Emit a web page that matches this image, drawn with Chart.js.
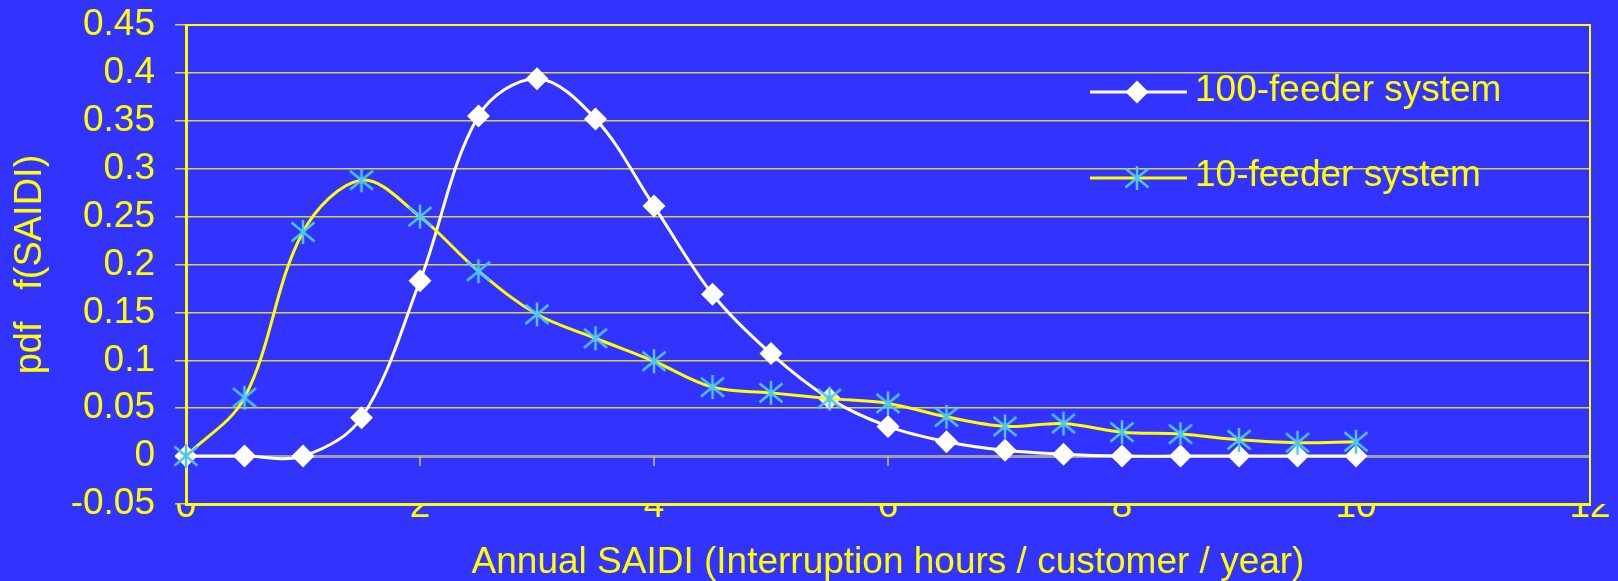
<!DOCTYPE html>
<html>
<head>
<meta charset="utf-8">
<script src="https://cdn.jsdelivr.net/npm/chart.js"></script>
<style>
    body { margin: 0; background: #3333ff; }
    #caixa { width: 1618px; height: 581px; }
</style>
</head>
<body>
<div id="caixa"><canvas id="grafico" width="1618" height="581"></canvas></div>
<script>
// dados
const saidi = [0, 0.5, 1, 1.5, 2, 2.5, 3, 3.5, 4, 4.5, 5, 5.5, 6, 6.5, 7, 7.5, 8, 8.5, 9, 9.5, 10];
const sistema100 = [0, 0, 0, 0.040, 0.183, 0.355, 0.394, 0.352, 0.261, 0.169, 0.107, 0.060, 0.031, 0.015, 0.006, 0.002, 0, 0, 0, 0, 0];
const sistema10 = [0, 0.061, 0.234, 0.288, 0.250, 0.193, 0.148, 0.123, 0.099, 0.072, 0.066, 0.060, 0.055, 0.041, 0.031, 0.034, 0.025, 0.023, 0.017, 0.014, 0.015];
const nomes = ['100-feeder system', '10-feeder system'];

const AMARELO = '#ffff00';
const CIANO = '#4fc6f2';
const fonte = 'Liberation Sans, Arial, sans-serif';

function pontos(ys) {
    return saidi.map((x, i) => ({ x: x, y: ys[i] }));
}

// marcador asterisco (vertical + X), como no Excel
function criarAsterisco() {
    const c = document.createElement('canvas');
    c.width = 26;
    c.height = 26;
    const g = c.getContext('2d');
    g.strokeStyle = CIANO;
    g.lineWidth = 2.5;
    g.beginPath();
    g.moveTo(13, 1); g.lineTo(13, 25);
    g.moveTo(1.5, 3.5); g.lineTo(24.5, 22.5);
    g.moveTo(24.5, 3.5); g.lineTo(1.5, 22.5);
    g.stroke();
    return c;
}
const asterisco = criarAsterisco();

function desenharLosango(ctx, x, y, r) {
    ctx.beginPath();
    ctx.moveTo(x, y - r);
    ctx.lineTo(x + r, y);
    ctx.lineTo(x, y + r);
    ctx.lineTo(x - r, y);
    ctx.closePath();
    ctx.fillStyle = '#ffffff';
    ctx.fill();
}

// moldura, marcas no eixo zero e legenda
const extras = {
    id: 'extras',
    beforeDatasetsDraw(chart) {
        const ctx = chart.ctx;
        const a = chart.chartArea;
        const sx = chart.scales.x;
        const sy = chart.scales.y;
        ctx.save();
        ctx.strokeStyle = AMARELO;
        ctx.lineWidth = 2;
        ctx.beginPath();
        ctx.moveTo(a.left, a.top);
        ctx.lineTo(a.right, a.top);
        ctx.lineTo(a.right, a.bottom);
        ctx.stroke();

        const y0 = sy.getPixelForValue(0);
        ctx.strokeStyle = '#c8c860';
        ctx.lineWidth = 1.5;
        for (let v = 2; v < 12; v += 2) {
            const px = sx.getPixelForValue(v);
            ctx.beginPath();
            ctx.moveTo(px, y0);
            ctx.lineTo(px, y0 + 10);
            ctx.stroke();
        }
        ctx.restore();
    },
    afterDraw(chart) {
        const ctx = chart.ctx;
        ctx.save();
        ctx.lineWidth = 3;
        // linha 1
        ctx.strokeStyle = '#ffffff';
        ctx.beginPath();
        ctx.moveTo(1090, 92);
        ctx.lineTo(1187, 92);
        ctx.stroke();
        desenharLosango(ctx, 1137, 92, 11.5);
        // linha 2
        ctx.strokeStyle = AMARELO;
        ctx.beginPath();
        ctx.moveTo(1090, 178);
        ctx.lineTo(1187, 178);
        ctx.stroke();
        ctx.drawImage(asterisco, 1137 - 13, 178 - 13);

        ctx.fillStyle = AMARELO;
        ctx.font = '37px ' + fonte;
        ctx.textBaseline = 'alphabetic';
        ctx.fillText(nomes[0], 1195, 101);
        ctx.fillText(nomes[1], 1195, 186);
        ctx.restore();
    }
};

const ctx = document.getElementById('grafico');

new Chart(ctx, {
    type: 'line',
    data: {
        datasets: [
            {
                label: nomes[0],
                data: pontos(sistema100),
                borderColor: '#ffffff',
                borderWidth: 3,
                tension: 0.35,
                pointStyle: 'rectRot',
                pointRadius: 11.5,
                pointBackgroundColor: '#ffffff',
                pointBorderColor: '#ffffff',
                pointBorderWidth: 0,
                order: 2,
                clip: false
            },
            {
                label: nomes[1],
                data: pontos(sistema10),
                borderColor: AMARELO,
                borderWidth: 3,
                tension: 0.35,
                pointStyle: asterisco,
                pointRadius: 12,
                order: 1,
                clip: false
            }
        ]
    },
    options: {
        responsive: false,
        animation: false,
        layout: {
            padding: { top: 25, right: 28, bottom: 0, left: 0 }
        },
        plugins: {
            legend: { display: false },
            tooltip: { enabled: false }
        },
        scales: {
            x: {
                type: 'linear',
                min: 0,
                max: 12,
                ticks: {
                    stepSize: 2,
                    color: AMARELO,
                    padding: -27,
                    font: { family: fonte, size: 37 }
                },
                grid: { display: false },
                border: { color: AMARELO, width: 3 },
                title: {
                    display: true,
                    text: 'Annual SAIDI (Interruption hours / customer / year)',
                    color: AMARELO,
                    font: { family: fonte, size: 37, lineHeight: 1 },
                    padding: 0
                },
                afterFit: function (s) { s.height = 77; }
            },
            y: {
                min: -0.05,
                max: 0.45,
                ticks: {
                    stepSize: 0.05,
                    autoSkip: false,
                    color: AMARELO,
                    padding: 20,
                    font: { family: fonte, size: 37 },
                    callback: v => String(Math.round(v * 100) / 100)
                },
                grid: {
                    color: c => (c.tick && Math.abs(c.tick.value) < 1e-9) ? '#a0a0a0' : '#d6d640',
                    lineWidth: c => (c.tick && Math.abs(c.tick.value) < 1e-9) ? 3 : 1.5,
                    tickLength: 11
                },
                border: { color: AMARELO, width: 3 },
                title: {
                    display: true,
                    text: 'pdf   f(SAIDI)',
                    color: AMARELO,
                    font: { family: fonte, size: 38, lineHeight: 1 },
                    padding: { top: 12, bottom: 0 }
                },
                afterFit: function (s) {
                    s.width = 186;
                    s.paddingTop = 0;
                    s.paddingBottom = 0;
                }
            }
        }
    },
    plugins: [extras]
});
</script>
</body>
</html>
